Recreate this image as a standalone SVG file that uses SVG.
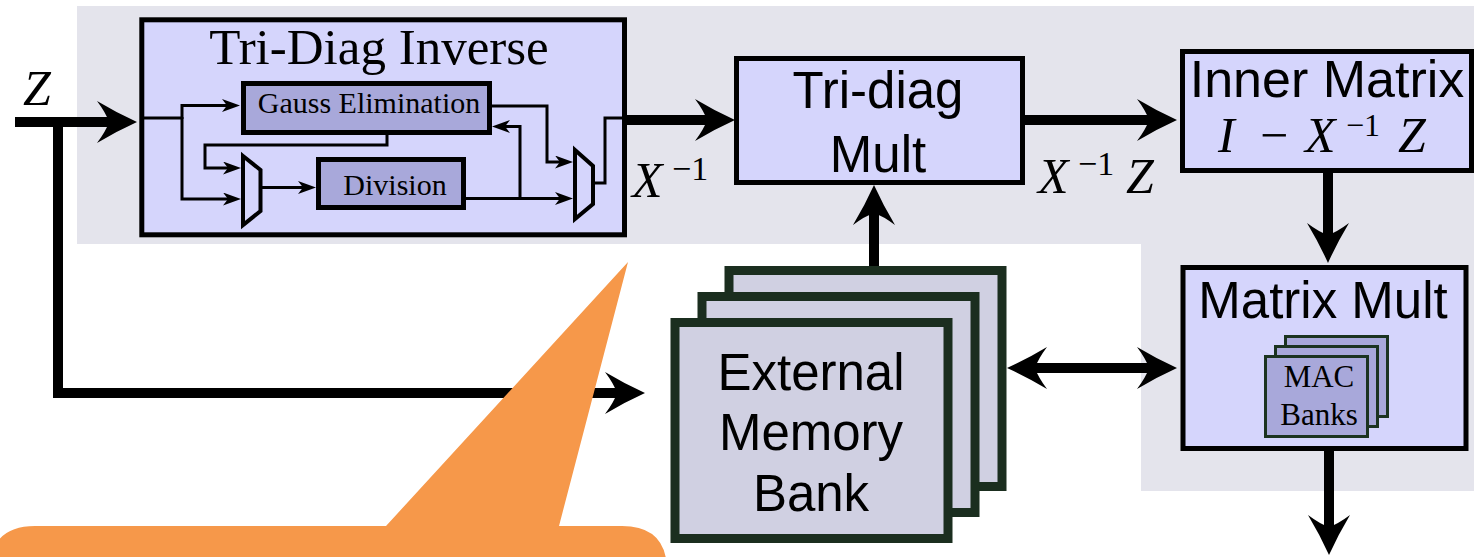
<svg xmlns="http://www.w3.org/2000/svg" width="1474" height="557" viewBox="0 0 1474 557">
  <style>
    .box { fill: #d5d5fc; stroke: #000; stroke-width: 5; }
    .sub { fill: #a8a8da; stroke: #000; stroke-width: 5; }
    .mux { fill: #d5d5fc; stroke: #000; stroke-width: 4; stroke-linejoin: miter; }
    .mem { fill: #d0d0e2; stroke: #1b2e1f; stroke-width: 9; }
    .mac { fill: #a8a8da; stroke: #1b3320; stroke-width: 3; }
    .sans { font-family: "Liberation Sans", Arial, sans-serif; fill: #000; }
    .serif { font-family: "Liberation Serif", "Times New Roman", serif; fill: #000; }
    .math { font-family: "Liberation Serif", "Times New Roman", serif; font-style: italic; font-size: 50px; fill: #000; }
    .up { font-style: normal; }
    .thick { fill: none; stroke: #000; stroke-width: 10; stroke-linejoin: miter; }
    .thin { fill: none; stroke: #000; stroke-width: 3; stroke-linejoin: miter; }
  </style>
  <defs>
    <marker id="big" markerUnits="userSpaceOnUse" markerWidth="44" markerHeight="46" refX="12" refY="21" orient="auto-start-reverse">
      <path d="M40,21 Q20,12 0,0 Q9,12 12,21 Q9,30 0,42 Q20,30 40,21 Z" fill="#000"/>
    </marker>
    <marker id="small" markerUnits="userSpaceOnUse" markerWidth="20" markerHeight="15" refX="5" refY="6.5" orient="auto">
      <path d="M18,6.5 L0,0 L5,6.5 L0,13 Z" fill="#000"/>
    </marker>
  </defs>

  <!-- shaded processing region -->
  <polygon id="region" points="77,6 1474,6 1474,491 1141,491 1141,244 77,244" fill="#e4e4ec"/>

  <!-- tri-diagonal inverse unit with its internal datapath -->
  <g id="tridiag-inverse">
    <rect class="box" x="141.8" y="19.8" width="482.7" height="215"/>
    <text class="serif" x="379" y="64" font-size="51" text-anchor="middle">Tri-Diag Inverse</text>
    <g id="gauss">
      <rect class="sub" x="243.5" y="83.5" width="246" height="49"/>
      <text class="serif" x="369" y="113" font-size="30" text-anchor="middle">Gauss Elimination</text>
    </g>
    <g id="division">
      <rect class="sub" x="318.5" y="159.5" width="145" height="48"/>
      <text class="serif" x="395" y="195" font-size="30" text-anchor="middle">Division</text>
    </g>
    <polygon id="mux-in" class="mux" points="243,156 260.5,170 260.5,211 243,225"/>
    <polygon id="mux-out" class="mux" points="575,150 593,166 593,204 575,219"/>
    <g id="inner-wires">
      <path class="thin" d="M141,118 H182"/>
      <path class="thin" d="M182,119 V105.5 H227" marker-end="url(#small)"/>
      <path class="thin" d="M182,117 V199 H228" marker-end="url(#small)"/>
      <path class="thin" d="M387,135 V145 H205 V168 H228" marker-end="url(#small)"/>
      <path class="thin" d="M262,187.5 H303" marker-end="url(#small)"/>
      <path class="thin" d="M466,198.5 H560" marker-end="url(#small)"/>
      <path class="thin" d="M520,198.5 V126.5 H505" marker-end="url(#small)"/>
      <path class="thin" d="M492,106 H547 V162 H560" marker-end="url(#small)"/>
      <path class="thin" d="M593,183 H605 V118 H627"/>
    </g>
  </g>

  <g id="tridiag-mult">
    <rect class="box" x="736.5" y="58.5" width="286" height="124"/>
    <text class="sans" x="878" y="108" font-size="51" text-anchor="middle">Tri-diag</text>
    <text class="sans" x="878" y="172" font-size="51" text-anchor="middle">Mult</text>
  </g>

  <g id="inner-matrix">
    <rect class="box" x="1182.5" y="51.5" width="289" height="119"/>
    <text class="sans" x="1327" y="97" font-size="52" text-anchor="middle">Inner Matrix</text>
    <text class="math" y="152"><tspan x="1218">I</tspan><tspan class="up" x="1260">−</tspan><tspan x="1305">X</tspan><tspan class="up" x="1346" y="136" font-size="32">−1</tspan><tspan x="1398" y="152">Z</tspan></text>
  </g>

  <g id="matrix-mult">
    <rect class="box" x="1183" y="267.5" width="283" height="181"/>
    <text class="sans" x="1323" y="318" font-size="51" text-anchor="middle">Matrix Mult</text>
    <g id="mac-banks">
      <rect class="mac" x="1285.5" y="336.5" width="102" height="80"/>
      <rect class="mac" x="1275.5" y="346.5" width="102" height="80"/>
      <rect class="mac" x="1265.5" y="356.5" width="102" height="80"/>
      <text class="serif" x="1319" y="387" font-size="31" text-anchor="middle">MAC</text>
      <text class="serif" x="1319" y="425" font-size="31" text-anchor="middle">Banks</text>
    </g>
  </g>

  <g id="memory-bank">
    <rect class="mem" x="729" y="270.5" width="273" height="216"/>
    <rect class="mem" x="702" y="296.5" width="273" height="216"/>
    <rect class="mem" x="675" y="322.5" width="273" height="216"/>
    <text class="sans" x="811" y="390" font-size="51" text-anchor="middle">External</text>
    <text class="sans" x="811" y="450" font-size="51" text-anchor="middle">Memory</text>
    <text class="sans" x="811" y="511" font-size="51" text-anchor="middle">Bank</text>
  </g>

  <!-- signal labels -->
  <g id="labels">
    <text class="math" x="23" y="105">Z</text>
    <text class="math" y="197"><tspan x="632">X</tspan><tspan class="up" x="672" y="180" font-size="34">−1</tspan></text>
    <text class="math" y="193"><tspan x="1038">X</tspan><tspan class="up" x="1078" y="175" font-size="34">−1</tspan><tspan x="1126" y="193">Z</tspan></text>
  </g>

  <g id="connectors">
    <path class="thick" d="M15,122 H109" marker-end="url(#big)"/>
    <path class="thick" d="M58,117 V393 H617" marker-end="url(#big)"/>
    <path class="thick" d="M627,120 H707" marker-end="url(#big)"/>
    <path class="thick" d="M1025,120 H1149" marker-end="url(#big)"/>
    <path class="thick" d="M1328,173 V235" marker-end="url(#big)"/>
    <path class="thick" d="M1329,451 V527" marker-end="url(#big)"/>
    <path class="thick" d="M874,266 V213" marker-end="url(#big)"/>
    <path class="thick" d="M1035,368 H1149" marker-start="url(#big)" marker-end="url(#big)"/>
  </g>

  <!-- speech-bubble callout -->
  <path id="callout" fill="#f6984a" d="M-10,600 V571 Q-10,526 35,526 H386 L628,262 L559,526 H622 Q667,526 667,571 V600 Z"/>
</svg>
